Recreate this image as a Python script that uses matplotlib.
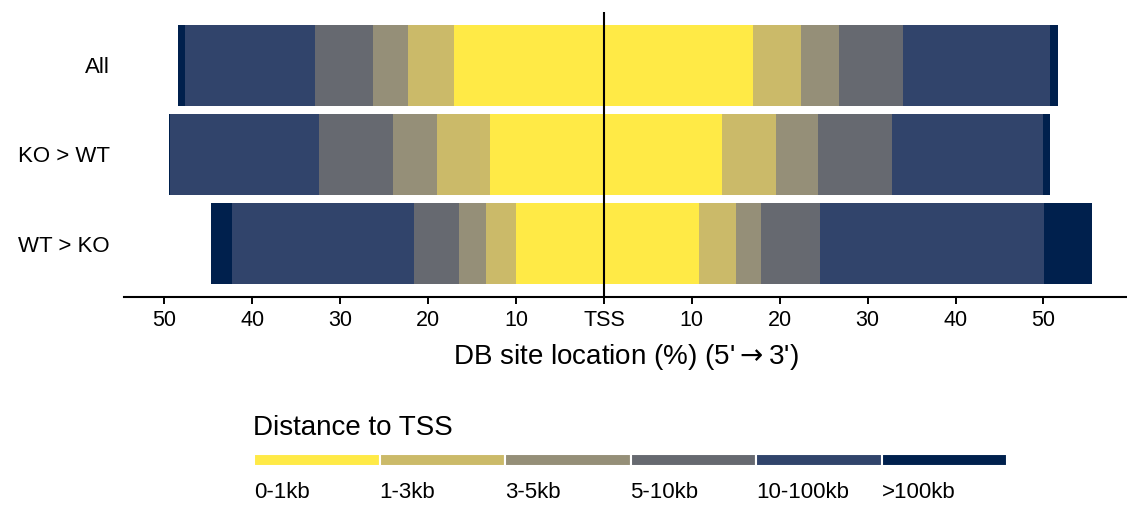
import numpy as np
import matplotlib
matplotlib.use("Agg")
import matplotlib.pyplot as plt

plt.rcParams['font.family'] = ['Liberation Sans', 'DejaVu Sans']
plt.rcParams['mathtext.fontset'] = 'dejavusans'

#==================== DATOS ====================

groups = ["All", "KO > WT", "WT > KO"]
bins = ["0-1kb", "1-3kb", "3-5kb", "5-10kb", "10-100kb", ">100kb"]
colors = ['#FFEA46', '#CBBA69', '#958F78', '#666970', '#31446B', '#00204D']

# percent of DB sites upstream (5') of the TSS, per distance bin
upstream = {
    "All":     [17.1, 5.2, 4.0, 6.6, 14.8, 0.8],
    "KO > WT": [13.0, 6.0, 5.0, 8.4, 17.0, 0.1],
    "WT > KO": [10.0, 3.4, 3.1, 5.1, 20.7, 2.4],
}
# percent downstream (3') of the TSS
downstream = {
    "All":     [16.9, 5.5, 4.3, 7.3, 16.7, 0.9],
    "KO > WT": [13.4, 6.2, 4.7, 8.5, 17.2, 0.7],
    "WT > KO": [10.8, 4.2, 2.9, 6.7, 25.5, 5.4],
}

ticks = [-50, -40, -30, -20, -10, 0, 10, 20, 30, 40, 50]
tick_labels = ["50", "40", "30", "20", "10", "TSS", "10", "20", "30", "40", "50"]

#==================== FIGURA ====================

W, H = 1127, 505
fig = plt.figure(figsize=(W / 100, H / 100), dpi=100)

def px_box(x0, y0, x1, y1):
    # pixel box (top-left origin) -> figure fraction rect
    return [x0 / W, 1 - y1 / H, (x1 - x0) / W, (y1 - y0) / H]

ax = fig.add_axes(px_box(124, 12, 1127, 297))

ypos = {g: len(groups) - 1 - i for i, g in enumerate(groups)}

for g in groups:
    y = ypos[g]
    left = 0.0
    for val, c in zip(upstream[g], colors):
        ax.barh(y, -val, left=-left, height=0.91, color=c, linewidth=0)
        left += val
    left = 0.0
    for val, c in zip(downstream[g], colors):
        ax.barh(y, val, left=left, height=0.91, color=c, linewidth=0)
        left += val

ax.axvline(0, color='black', linewidth=1.5, zorder=5)

ax.set_xlim(-54.6, 59.5)
ax.set_ylim(-0.6, 2.6)
ax.set_yticks([ypos[g] for g in groups])
ax.set_yticklabels(groups, fontsize=16)
ax.set_xticks(ticks)
ax.set_xticklabels(tick_labels, fontsize=15.5)
ax.tick_params(axis='y', length=0, pad=10)
ax.tick_params(axis='x', length=5, width=1.4, pad=4)
for s in ['top', 'right', 'left']:
    ax.spines[s].set_visible(False)
ax.spines['bottom'].set_linewidth(1.5)
ax.set_xlabel("DB site location (%) (5'$\\rightarrow$3')", fontsize=20, labelpad=8)

#==================== LEYENDA ====================

lax = fig.add_axes(px_box(254, 454, 1007, 466))
for i, (b, c) in enumerate(zip(bins, colors)):
    lax.barh(0, 1, left=i, height=1, color=c, edgecolor='white', linewidth=1.5)
    fig.text((254 + i * 125.5) / W, 1 - 493 / H, b, fontsize=16,
             ha='left', va='center')
lax.set_xlim(0, 6)
lax.set_ylim(-0.5, 0.5)
lax.axis('off')

fig.text(253 / W, 1 - 428 / H, "Distance to TSS", fontsize=20,
         ha='left', va='center')

fig.savefig("out.png", dpi=100)
